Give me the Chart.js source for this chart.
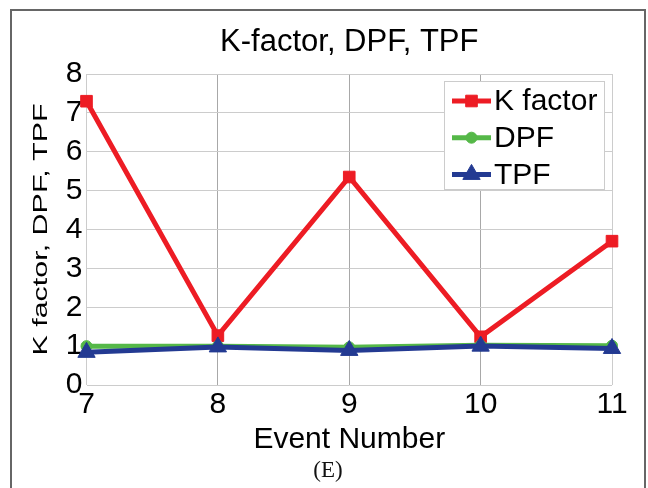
<!DOCTYPE html>
<html>
<head>
<meta charset="utf-8">
<script src="https://cdn.jsdelivr.net/npm/chart.js@4.4.1/dist/chart.umd.min.js"></script>
<style>
  html, body { margin: 0; padding: 0; background: #fff; }
  #wrap { position: relative; width: 648px; height: 488px; overflow: hidden; }
  #frame { position: absolute; left: 10px; top: 9px; width: 632px; height: 520px; border: 2px solid #666; pointer-events: none; }
  #cap { position: absolute; left: 0; width: 656px; top: 457px; text-align: center; font: 23px "Liberation Serif", serif; color: #111; }
</style>
</head>
<body>
<div id="wrap">
  <canvas id="chart" width="648" height="488"></canvas>
  <div id="frame"></div>
  <div id="cap">(E)</div>
</div>
<script>
// values
const events = [7, 8, 9, 10, 11];
const kFactor = [7.3, 1.27, 5.35, 1.24, 3.7];
const dpf = [1.0, 1.0, 0.97, 1.02, 1.01];
const tpf = [0.84, 0.98, 0.89, 1.0, 0.94];
const seriesNames = ['K factor', 'DPF', 'TPF'];
const titleText = 'K-factor, DPF, TPF';
const xLabel = 'Event Number';
const yLabel = 'K factor, DPF, TPF';

const fam = '"Liberation Sans", Arial, sans-serif';

// y title in the figure is drawn narrow and long, so stretch it along its length
const yTitle = {
  id: 'yTitle',
  afterDraw(chart) {
    const ctx = chart.ctx, area = chart.chartArea;
    ctx.save();
    ctx.translate(area.left - 39.5, (area.top + area.bottom) / 2);
    ctx.rotate(-Math.PI / 2);
    ctx.scale(1.45, 1);
    ctx.font = '21px ' + fam;
    ctx.fillStyle = '#000';
    ctx.textAlign = 'center';
    ctx.textBaseline = 'alphabetic';
    ctx.fillText(yLabel, 0, 0);
    ctx.restore();
  }
};

// boxed legend inside the top right of the plot, line + marker per series
const boxLegend = {
  id: 'boxLegend',
  afterDatasetsDraw(chart) {
    const ctx = chart.ctx, area = chart.chartArea;
    const w = 161, h = 109;
    const x0 = area.right - 7 - w, y0 = area.top + 7;
    ctx.save();
    ctx.fillStyle = '#fff';
    ctx.fillRect(x0, y0, w, h);
    ctx.strokeStyle = '#cccccc';
    ctx.lineWidth = 1;
    ctx.strokeRect(x0 + 0.5, y0 + 0.5, w - 1, h - 1);
    ctx.font = '30px ' + fam;
    ctx.textBaseline = 'middle';
    chart.data.datasets.forEach((ds, i) => {
      const y = y0 + 20 + i * 36.7;
      ctx.strokeStyle = ds.borderColor;
      ctx.lineWidth = ds.borderWidth;
      ctx.beginPath();
      ctx.moveTo(x0 + 8, y);
      ctx.lineTo(x0 + 47, y);
      ctx.stroke();
      ctx.fillStyle = ds.pointBackgroundColor;
      ctx.strokeStyle = ds.pointBorderColor;
      ctx.lineWidth = 1;
      Chart.helpers.drawPoint(ctx, {pointStyle: ds.pointStyle, radius: ds.pointRadius, rotation: 0, borderWidth: 1}, x0 + 27.5, y);
      ctx.fillStyle = '#000';
      ctx.fillText(ds.label, x0 + 50, y + 1);
    });
    ctx.restore();
  }
};

function series(label, data, color, style, radius, order) {
  return {
    label: label, data: data, order: order,
    borderColor: color, borderWidth: 5,
    pointStyle: style, pointRadius: radius,
    pointBackgroundColor: color, pointBorderColor: color, pointBorderWidth: 1,
    tension: 0, fill: false
  };
}

new Chart(document.getElementById('chart'), {
  type: 'line',
  data: {
    labels: events,
    datasets: [
      series(seriesNames[0], kFactor, '#ed1c24', 'rect', 8.2, 3),
      series(seriesNames[1], dpf, '#55b848', 'circle', 5.5, 2),
      series(seriesNames[2], tpf, '#233a92', 'triangle', 10, 1)
    ]
  },
  options: {
    responsive: false,
    animation: false,
    layout: { padding: { left: 46, right: 36, top: 12, bottom: 29 } },
    plugins: {
      legend: { display: false },
      tooltip: { enabled: false },
      title: {
        display: true, text: titleText, fullSize: false, color: '#000',
        font: { family: fam, size: 31, weight: 'normal', lineHeight: 1 },
        padding: { top: 15, bottom: 16 }
      }
    },
    scales: {
      x: {
        grid: {
          color: c => (c.index === 0 || c.index === events.length - 1) ? '#cccccc' : '#a8a8a8',
          drawTicks: false
        },
        border: { display: false },
        ticks: { color: '#000', font: { family: fam, size: 30, lineHeight: 1 }, padding: 5, maxRotation: 0, autoSkip: false },
        title: {
          display: true, text: xLabel, color: '#000',
          font: { family: fam, size: 30, lineHeight: 1 },
          padding: { top: 0, bottom: 4 }
        }
      },
      y: {
        min: 0, max: 8,
        grid: { color: '#cccccc', drawTicks: false },
        border: { display: false },
        ticks: { stepSize: 1, color: '#000', font: { family: fam, size: 30, lineHeight: 1 }, padding: 4 },
        afterFit: s => { s.width = 40.5; }
      }
    }
  },
  plugins: [yTitle, boxLegend]
});
</script>
</body>
</html>
